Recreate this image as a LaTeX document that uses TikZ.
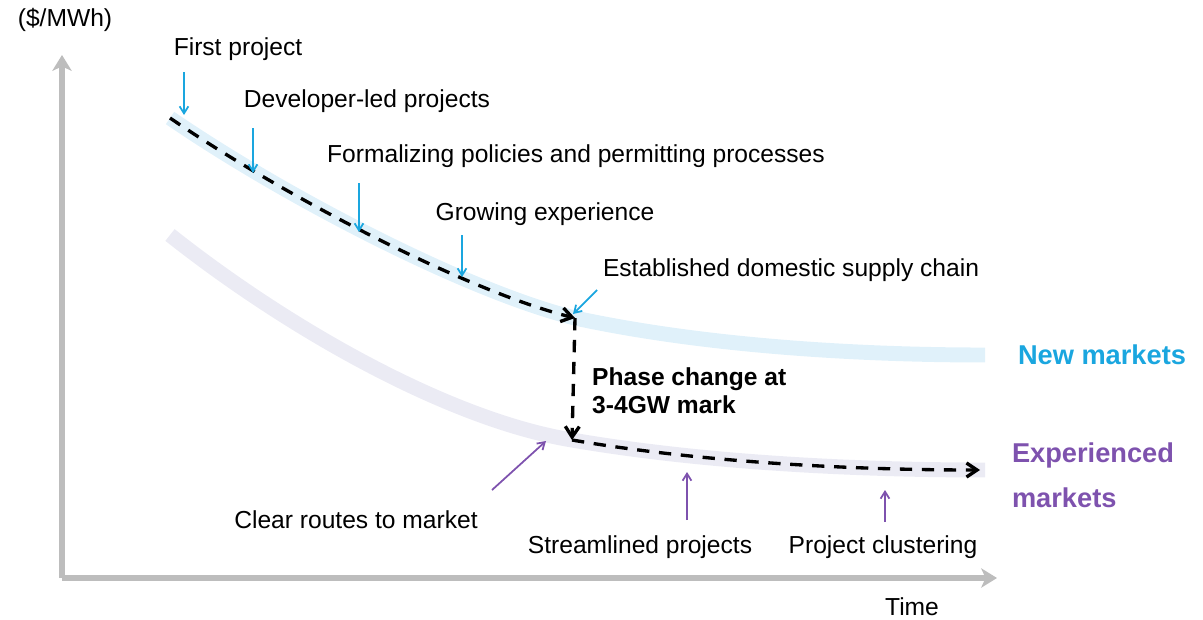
\documentclass[tikz,border=0pt]{standalone}
\usepackage{fontspec}
\setmainfont{Liberation Sans}
\usetikzlibrary{arrows.meta}
\definecolor{newblue}{HTML}{1AA6DF}
\definecolor{expurple}{HTML}{7E52AE}
\definecolor{newband}{HTML}{E0F1FA}
\definecolor{expband}{HTML}{EBEBF4}
\definecolor{axisgray}{HTML}{BDBDBD}
\tikzset{
  lbl/.style={font=\fontsize{14}{17}\selectfont},
  band/.style={line width=8.5pt},
  path/.style={line width=1.9pt, dash pattern=on 7pt off 5.5pt},
  cue/.style={line width=1pt, -{Straight Barb[length=4pt,width=5pt]}},
  axis/.style={axisgray, line width=3pt, -{Stealth[length=9pt,width=11pt,inset=2.5pt]}},
}
\begin{document}
\begin{tikzpicture}[x=0.02cm, y=-0.02cm, >={Straight Barb[length=6pt,width=8pt]}]
\useasboundingbox (0,0) rectangle (1203,619);
% axes
\coordinate (O) at (62,578);
\coordinate (ytop) at (62,55);
\coordinate (xend) at (997,578);
\draw[axis] (O)--(ytop);
\draw[axis] (O)--(xend);
\node[lbl] (unit) at (65,20) {(\$/MWh)};
\node[lbl] (time) at (912,607) {Time};
% curves
\coordinate (n0) at (170,118);\coordinate (n1) at (575,318);\coordinate (n2) at (985,355);
\coordinate (e0) at (170,235);\coordinate (e1) at (572,440);\coordinate (e2) at (985,470);
\draw[newband, band] (n0) .. controls (290,200) and (470,292) .. (n1)
  .. controls (700,345) and (850,355) .. (n2);
\draw[expband, band] (e0) .. controls (290,330) and (450,420) .. (e1)
  .. controls (700,462) and (850,470) .. (e2);
\draw[path, ->] (n0) .. controls (290,200) and (470,292) .. (n1);
\draw[path, ->] (n1) -- (e1);
\coordinate (eend) at (980,470);
\draw[path, ->] (e1) .. controls (700,462) and (850,470) .. (eend);
% labels new markets
\node[lbl] (first) at (238,49) {First project};
\node[lbl] (dev) at (367,101) {Developer-led projects};
\node[lbl] (form) at (576,156) {Formalizing policies and permitting processes};
\node[lbl] (grow) at (545,214) {Growing experience};
\node[lbl] (estab) at (791,270) {Established domestic supply chain};
\draw[newblue, cue] (184,72) -- (184,115);
\draw[newblue, cue] (253,128) -- (253,173);
\draw[newblue, cue] (359,183) -- (359,232);
\draw[newblue, cue] (462,235) -- (462,277);
\draw[newblue, cue] (597,290) -- (573,314);
\node[font=\fontsize{15.5}{18}\selectfont\bfseries, text=newblue] (newm) at (1102,355) {New markets};
% phase change
\node[font=\fontsize{14}{16}\selectfont\bfseries, anchor=west, align=left] (phase) at (586,391) {Phase change at\\3-4GW mark};
% labels experienced
\node[lbl] (clear) at (356,520) {Clear routes to market};
\node[lbl] (stream) at (640,547) {Streamlined projects};
\node[lbl] (clust) at (883,547) {Project clustering};
\draw[expurple, cue] (492,490) -- (546,441);
\draw[expurple, cue] (687,520) -- (687,472);
\draw[expurple, cue] (885,522) -- (885,490);
\node[font=\fontsize{15.5}{25.5}\selectfont\bfseries, text=expurple, align=left] (expm) at (1093,475) {Experienced\\markets};
\end{tikzpicture}
\end{document}
